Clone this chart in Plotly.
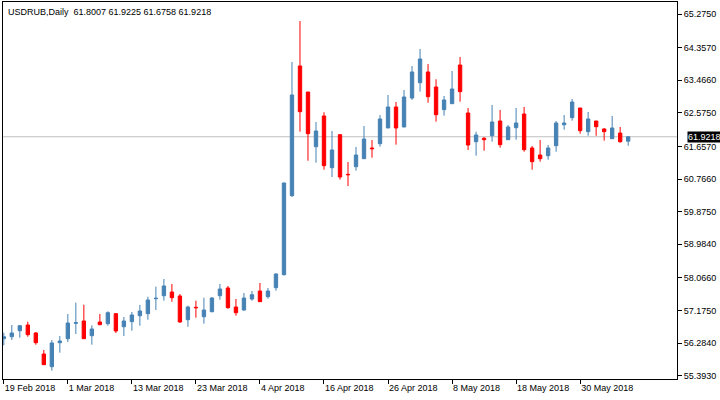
import pandas as pd
import plotly.graph_objects as go

# daily bars, 19 Feb 2018 .. 7 Jun 2018 (weekdays)
dates = [d.strftime('%Y-%m-%d') for d in pd.bdate_range('2018-02-19', periods=79)]

open_ = [56.404, 56.459, 56.623, 56.778, 56.560, 55.986, 55.639, 56.295, 56.404, 56.825,
         56.888, 56.486, 56.860, 56.814, 57.087, 56.732, 56.869, 57.032, 57.087, 57.497,
         57.579, 57.680, 57.571, 56.923, 57.262, 57.005, 57.142, 57.579, 57.789, 57.270,
         57.188, 57.489, 57.707, 57.552, 57.798, 58.153, 60.311, 63.855, 63.144, 61.650,
         62.489, 61.076, 61.978, 60.896, 61.103, 61.322, 61.614, 61.732, 62.161, 62.735,
         62.188, 62.980, 63.398, 63.691, 63.281, 62.661, 62.825, 63.882, 62.571, 61.786,
         61.879, 61.950, 62.352, 61.841, 62.169, 62.543, 61.614, 61.423, 61.404, 61.677,
         62.251, 62.442, 62.707, 62.060, 62.352, 62.133, 61.868, 62.024, 61.8007]

high = [56.568, 56.778, 56.778, 56.869, 56.587, 56.095, 56.369, 56.478, 57.079, 57.388,
        57.333, 56.770, 57.079, 57.153, 57.106, 56.997, 57.134, 57.325, 57.551, 57.825,
        58.035, 57.899, 57.625, 57.306, 57.442, 57.524, 57.543, 57.899, 57.844, 57.489,
        57.653, 57.707, 57.926, 57.789, 58.190, 60.670, 63.964, 65.084, 63.144, 62.325,
        62.590, 62.079, 61.978, 61.232, 61.642, 62.215, 61.833, 62.516, 63.062, 62.871,
        63.199, 63.855, 64.319, 63.909, 63.491, 63.035, 63.718, 64.101, 62.707, 62.060,
        61.915, 62.789, 62.653, 62.243, 62.707, 62.735, 61.669, 61.833, 61.696, 62.352,
        62.516, 62.953, 62.707, 62.598, 62.352, 62.161, 62.489, 62.188, 61.9225]

low = [56.224, 56.369, 56.431, 56.459, 56.240, 55.694, 55.530, 56.022, 56.314, 56.532,
       56.404, 56.240, 56.786, 56.759, 56.560, 56.478, 56.623, 56.759, 56.923, 57.188,
       57.442, 57.415, 56.841, 56.732, 56.978, 56.814, 57.125, 57.470, 57.224, 57.032,
       57.169, 57.442, 57.415, 57.497, 57.715, 58.130, 60.280, 62.060, 61.267, 61.213,
       61.021, 60.822, 60.748, 60.576, 60.994, 61.322, 61.349, 61.650, 62.161, 61.705,
       62.188, 62.926, 63.153, 62.852, 62.333, 62.497, 62.825, 62.879, 61.560, 61.404,
       61.541, 61.786, 61.623, 61.841, 61.841, 61.513, 61.021, 61.240, 61.295, 61.513,
       62.114, 62.360, 62.005, 61.950, 61.950, 61.814, 61.868, 61.759, 61.6758]

close = [56.459, 56.560, 56.759, 56.513, 56.295, 55.694, 56.287, 56.341, 56.833, 56.841,
         56.404, 56.669, 56.786, 57.114, 56.614, 56.888, 57.052, 57.161, 57.461, 57.508,
         57.844, 57.524, 56.860, 57.270, 57.251, 57.188, 57.516, 57.762, 57.251, 57.114,
         57.516, 57.606, 57.415, 57.707, 58.172, 60.658, 63.062, 62.606, 62.005, 62.079,
         61.131, 61.560, 60.822, 60.885, 61.423, 61.860, 61.595, 62.407, 62.735, 62.161,
         63.008, 63.691, 64.046, 63.016, 62.524, 62.926, 63.226, 63.153, 61.696, 61.970,
         61.841, 62.325, 61.705, 62.188, 62.297, 61.568, 61.240, 61.322, 61.614, 62.297,
         62.297, 62.871, 62.087, 62.407, 62.196, 62.060, 62.161, 61.786, 61.9218]

price_ticks = [65.2750, 64.3570, 63.4660, 62.5750, 61.6570, 60.7660,
               59.8750, 58.9840, 58.0660, 57.1750, 56.2840, 55.3930]
last_price = 61.9218

x_ticks = dates[::8]
x_labels = [pd.Timestamp(d).strftime('%-d %b %Y') for d in x_ticks]

font = 'Liberation Sans'

fig = go.Figure()
fig.add_trace(go.Candlestick(
    x=dates, open=open_, high=high, low=low, close=close,
    increasing=dict(line=dict(color='#4682B4', width=1), fillcolor='#4682B4'),
    decreasing=dict(line=dict(color='#FF0000', width=1), fillcolor='#FF0000'),
    whiskerwidth=0,
    showlegend=False,
))

# last price line
fig.add_shape(type='line', xref='paper', x0=0, x1=1, yref='y', y0=last_price, y1=last_price,
              line=dict(color='#C0C0C0', width=1), layer='below')

fig.add_annotation(xref='paper', x=1, yref='y', y=last_price, xanchor='left', yanchor='middle',
                   text='{:.4f}'.format(last_price), showarrow=False, xshift=10,
                   bgcolor='black', borderpad=0, font=dict(family=font, size=9, color='white'))

fig.add_annotation(xref='paper', x=0, yref='paper', y=1, xanchor='left', yanchor='top',
                   text='USDRUB,Daily\u00a0\u00a061.8007 61.9225 61.6758 61.9218',
                   showarrow=False, xshift=3, yshift=-3,
                   font=dict(family=font, size=9, color='black'))

fig.update_layout(
    width=720, height=400,
    margin=dict(l=3, r=43, t=2, b=21, autoexpand=False),
    paper_bgcolor='white', plot_bgcolor='white',
    font=dict(family=font, size=9, color='black'),
    boxgap=0.4,
    xaxis=dict(
        type='category', range=[-0.1, 84.1], rangeslider=dict(visible=False),
        tickvals=x_ticks, ticktext=x_labels, ticks='outside', ticklen=4, tickcolor='black',
        ticklabelposition='outside right', showgrid=False, showline=True, linecolor='black',
        linewidth=1, mirror=True, zeroline=False, automargin=False,
    ),
    yaxis=dict(
        side='right', range=[55.303, 65.603], tickvals=price_ticks,
        ticktext=['{:.4f}'.format(v) for v in price_ticks],
        ticks='outside', ticklen=4, tickcolor='black', showgrid=False, showline=True,
        linecolor='black', linewidth=1, mirror=True, zeroline=False, automargin=False,
    ),
)

# the page body has a default 8px margin; drop it so the figure sits at the corner
fig.write_html('out.html', config={'displayModeBar': False},
               post_script="document.body.style.margin='0';document.body.style.overflow='hidden';")
